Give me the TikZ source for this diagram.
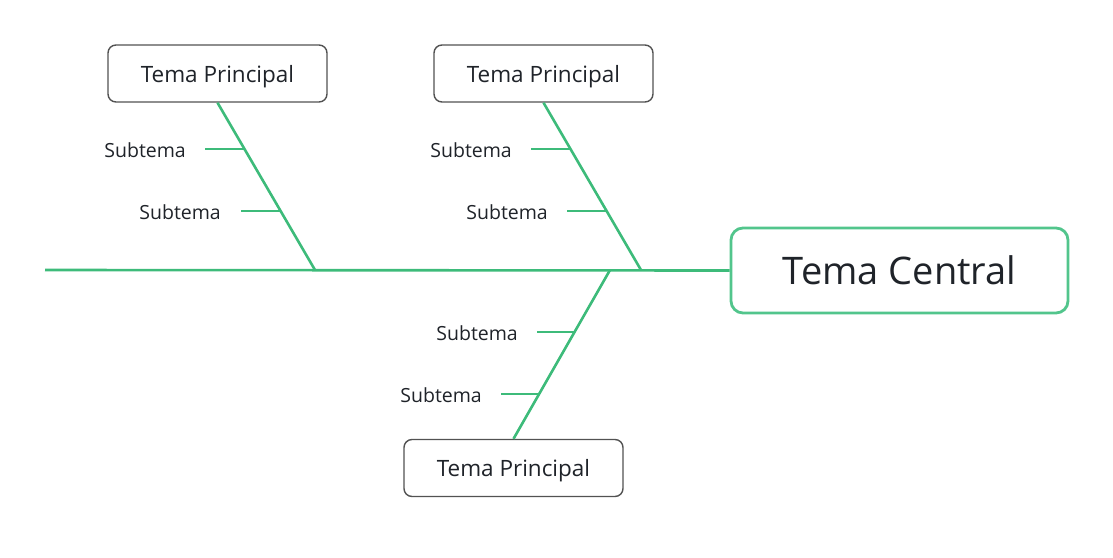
\documentclass[tikz,border=0pt]{standalone}
\usepackage{fontspec}
\setmainfont{Open Sans}
\definecolor{bone}{HTML}{3DBB7A}
\definecolor{cbox}{HTML}{52C58C}
\definecolor{txt}{HTML}{1F2329}
\begin{document}
\begin{tikzpicture}[x=1pt,y=-1pt,
  topic/.style={draw=black!68,line width=1.4pt,rounded corners=8pt,fill=white,
    minimum width=219pt,minimum height=57pt,inner sep=0pt,text=txt,text depth=0pt,
    font=\fontsize{22.5}{26}\selectfont},
  central/.style={draw=cbox,line width=2.8pt,rounded corners=12pt,fill=white,
    minimum width=337pt,minimum height=85pt,inner sep=0pt,text=txt,
    font=\fontsize{38}{42}\selectfont},
  sub/.style={text=txt,font=\fontsize{19.5}{22}\selectfont,inner sep=0pt,anchor=east},
  boneline/.style={draw=bone,line width=2.6pt},
  tick/.style={draw=bone,line width=2.6pt}
]
\useasboundingbox (0,0) rectangle (1113,557);
% spine
\coordinate (tail) at (45,270);
\coordinate (j1) at (315,270);
\coordinate (j2) at (641,270);
\coordinate (j3) at (610,270);
\node[central] (c) at (899.5,270.5) {Tema Central};
\draw[boneline] (tail) -- (c.west);
% topic boxes
\node[topic] (p1) at (217.5,73.5) {Tema Principal};
\node[topic] (p2) at (543.5,73.5) {Tema Principal};
\node[topic] (p3) at (513.5,468) {Tema Principal};
% bones
\draw[boneline] (p1.south) -- (j1);
\draw[boneline] (p2.south) -- (j2);
\draw[boneline] (j3) -- (p3.north);
% points on bones and tick starts
\coordinate (b1a) at (245.1,149);  \coordinate (t1a) at (205,149);
\coordinate (b1b) at (280.9,211);  \coordinate (t1b) at (241,211);
\coordinate (b2a) at (571.1,149);  \coordinate (t2a) at (531,149);
\coordinate (b2b) at (606.9,211);  \coordinate (t2b) at (567,211);
\coordinate (b3a) at (575,332);    \coordinate (t3a) at (537,332);
\coordinate (b3b) at (540,394);    \coordinate (t3b) at (501,394);
% subtopics
\node[sub] (s1a) at ([xshift=-19pt,yshift=-1.5pt]t1a) {Subtema};
\node[sub] (s1b) at ([xshift=-20pt,yshift=-1pt]t1b) {Subtema};
\node[sub] (s2a) at ([xshift=-19pt,yshift=-1.5pt]t2a) {Subtema};
\node[sub] (s2b) at ([xshift=-19pt,yshift=-1pt]t2b) {Subtema};
\node[sub] (s3a) at ([xshift=-19pt,yshift=-1.5pt]t3a) {Subtema};
\node[sub] (s3b) at ([xshift=-19pt,yshift=-1pt]t3b) {Subtema};
\draw[tick] (t1a) -- (b1a);
\draw[tick] (t1b) -- (b1b);
\draw[tick] (t2a) -- (b2a);
\draw[tick] (t2b) -- (b2b);
\draw[tick] (t3a) -- (b3a);
\draw[tick] (t3b) -- (b3b);
\end{tikzpicture}
\end{document}
